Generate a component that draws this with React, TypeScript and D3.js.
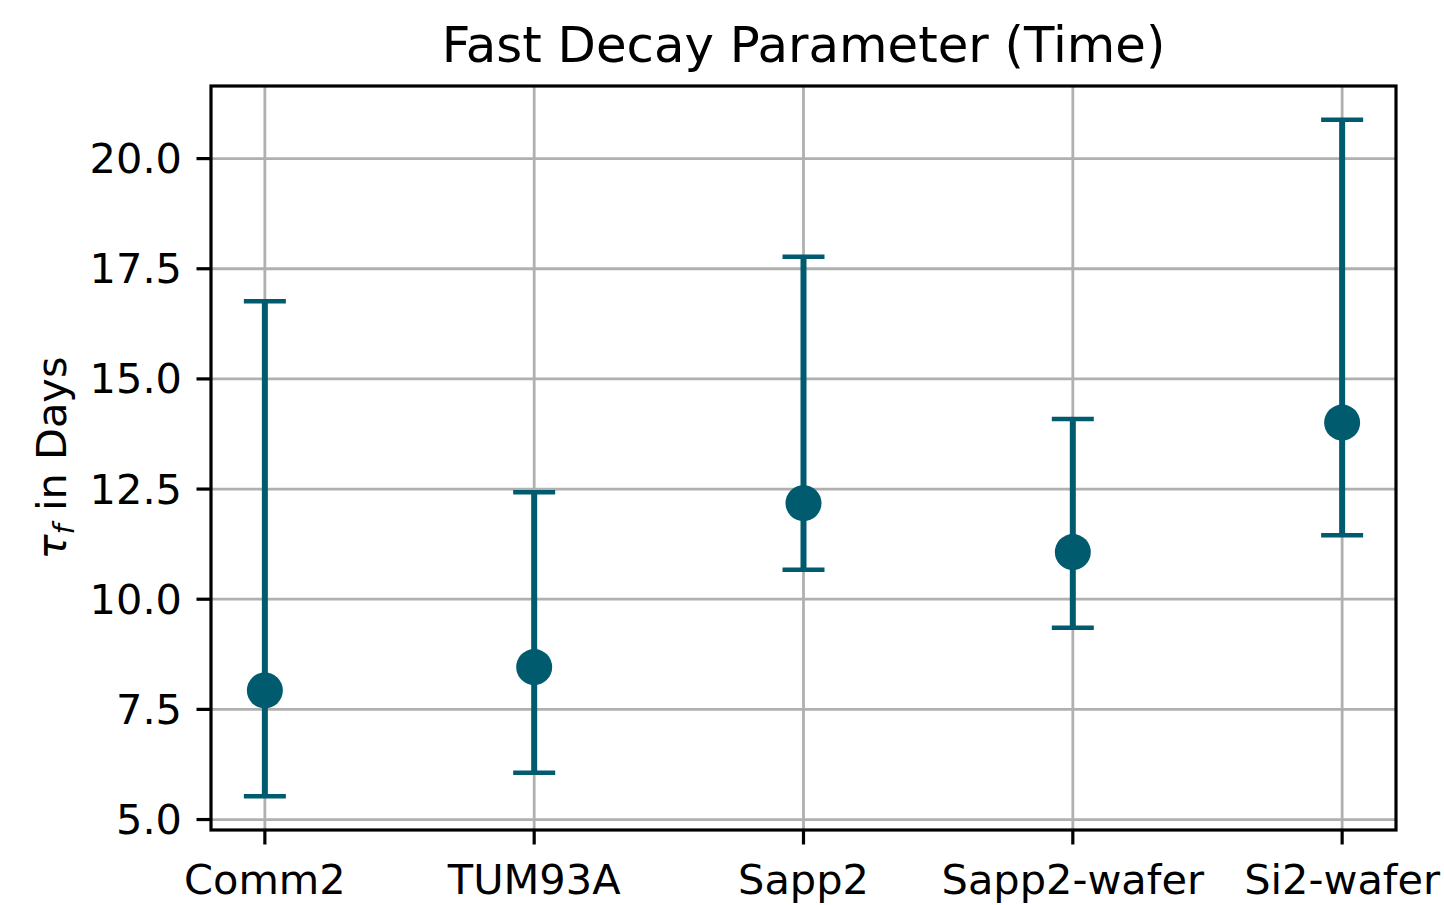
import React from "react";
import * as d3 from "d3";

// Fast decay time constant per sample, with asymmetric confidence bounds (days)
const samples = ["Comm2", "TUM93A", "Sapp2", "Sapp2-wafer", "Si2-wafer"];
const tauMean = [7.93, 8.46, 12.18, 11.07, 14.01];
const tauLower = [5.53, 6.06, 10.67, 9.35, 11.45];
const tauUpper = [16.76, 12.43, 17.77, 14.09, 20.88];
const yTicks = [5.0, 7.5, 10.0, 12.5, 15.0, 17.5, 20.0];

const W = 1444;
const H = 905;
const margin = { left: 211, right: 48, top: 86, bottom: 75 };
const color = "#005b6e";
const font = "'DejaVu Sans', sans-serif";
const fs = 41.5;

export default function App() {
  const x = d3
    .scaleLinear()
    .domain([-0.2, samples.length - 1 + 0.2])
    .range([margin.left, W - margin.right]);

  const lo = d3.min(tauLower) as number;
  const hi = d3.max(tauUpper) as number;
  const pad = (hi - lo) * 0.05;
  const y = d3
    .scaleLinear()
    .domain([lo - pad, hi + pad])
    .range([H - margin.bottom, margin.top]);

  const [x0, x1] = x.range();
  const [y0, y1] = y.range();
  const tickLen = 14.5;
  const capHalf = 21;

  return (
    <svg
      width={W}
      height={H}
      style={{ position: "absolute", left: 0, top: 0, background: "#fff" }}
      fontFamily={font}
    >
      {/* grid */}
      <g stroke="#b0b0b0" strokeWidth={2.8}>
        {yTicks.map((t) => (
          <line key={"gy" + t} x1={x0} x2={x1} y1={y(t)} y2={y(t)} />
        ))}
        {samples.map((s, i) => (
          <line key={"gx" + s} x1={x(i)} x2={x(i)} y1={y0} y2={y1} />
        ))}
      </g>

      {/* error bars and markers */}
      <g stroke={color}>
        {samples.map((s, i) => (
          <g key={"eb" + s}>
            <line x1={x(i)} x2={x(i)} y1={y(tauLower[i])} y2={y(tauUpper[i])} strokeWidth={6} />
            <line x1={x(i) - capHalf} x2={x(i) + capHalf} y1={y(tauLower[i])} y2={y(tauLower[i])} strokeWidth={4.5} />
            <line x1={x(i) - capHalf} x2={x(i) + capHalf} y1={y(tauUpper[i])} y2={y(tauUpper[i])} strokeWidth={4.5} />
            <circle cx={x(i)} cy={y(tauMean[i])} r={18} fill={color} stroke="none" />
          </g>
        ))}
      </g>

      {/* frame */}
      <rect x={x0} y={y1} width={x1 - x0} height={y0 - y1} fill="none" stroke="#000" strokeWidth={3.2} />

      {/* y ticks */}
      <g>
        {yTicks.map((t) => (
          <g key={"yt" + t}>
            <line x1={x0 - tickLen} x2={x0} y1={y(t)} y2={y(t)} stroke="#000" strokeWidth={3.2} />
            <text
              x={x0 - tickLen - 14.5}
              y={y(t)}
              textAnchor="end"
              dominantBaseline="central"
              fontSize={fs}
              fill="#000"
            >
              {t.toFixed(1)}
            </text>
          </g>
        ))}
      </g>

      {/* x ticks */}
      <g>
        {samples.map((s, i) => (
          <g key={"xt" + s}>
            <line x1={x(i)} x2={x(i)} y1={y0} y2={y0 + tickLen} stroke="#000" strokeWidth={3.2} />
            <text x={x(i)} y={y0 + 64} textAnchor="middle" fontSize={fs} fill="#000">
              {s}
            </text>
          </g>
        ))}
      </g>

      {/* axis label */}
      <text
        transform={`translate(${66},${(y0 + y1) / 2}) rotate(-90)`}
        textAnchor="middle"
        fontSize={fs}
        fill="#000"
      >
        <tspan fontStyle="italic">τ</tspan>
        <tspan fontStyle="italic" fontSize={fs * 0.7} dy={8}>f</tspan>
        <tspan dy={-8}> in Days</tspan>
      </text>

      {/* title */}
      <text x={(x0 + x1) / 2} y={62} textAnchor="middle" fontSize={fs * 1.2} fill="#000">
        Fast Decay Parameter (Time)
      </text>
    </svg>
  );
}
